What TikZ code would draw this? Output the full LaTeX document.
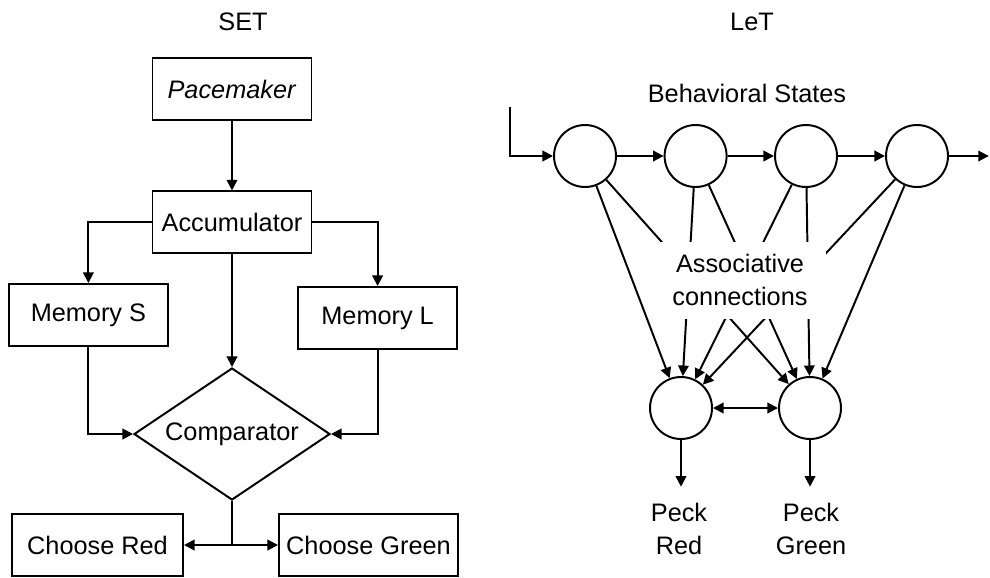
\documentclass[tikz,border=0pt]{standalone}
\usepackage{fontspec}
\setmainfont{Liberation Sans}
\usetikzlibrary{shapes.geometric,arrows.meta}

\tikzset{
  box/.style={draw, minimum width=3.975cm, minimum height=1.55cm, inner sep=0pt},
  state/.style={draw, circle, minimum size=1.55cm, inner sep=0pt},
  decision/.style={draw, diamond, shape aspect=1.5, minimum width=4.9cm, minimum height=3.3cm, inner sep=0pt},
}

\begin{document}
\begin{tikzpicture}[>={Triangle[length=7.5pt,width=7.5pt]}, line width=1.4pt, font=\fontsize{18}{23}\selectfont]
        \useasboundingbox (0,0) rectangle (24.75,-14.425);

        %titles of the two models
        \node (set) at (6.075,-0.55) {SET};
        \node (let) at (18.8,-0.55) {LeT};

        %SET: pacemaker and accumulator
        \node [box] (pace) at (5.8,-2.225) {\textit{Pacemaker}};
        \node [box] (acc) at (5.8,-5.56) {Accumulator};
        \draw [->] (pace) -- (acc);

        %SET: the two memories
        \node [box] (mems) at (2.21,-7.875) {Memory S};
        \node [box] (meml) at (9.44,-7.95) {Memory L};
        \draw [->] (acc.west) -| (mems.north);
        \draw [->] (acc.east) -| (meml.north);

        %SET: comparator
        \node [decision] (cmp) at (5.8,-10.85) {Comparator};
        \draw [->] (acc) -- (cmp);
        \draw [->] (mems.south) |- (cmp.west);
        \draw [->] (meml.south) |- (cmp.east);

        %SET: the two choices
        \node [box, minimum width=4.275cm] (red) at (2.4375,-13.625) {Choose Red};
        \node [box, minimum width=4.475cm] (green) at (9.2125,-13.625) {Choose Green};
        \coordinate (split) at (cmp.south |- red.east);
        \draw (cmp.south) -- (split);
        \draw [->] (split) -- (red);
        \draw [->] (split) -- (green);

        %LeT: chain of behavioral states
        \node (beh) at (18.675,-2.325) {Behavioral States};
        \foreach \i/\x in {1/14.625, 2/17.39, 3/20.15, 4/22.925}
            \node [state] (s\i) at (\x,-3.9) {};
        \coordinate (in) at (12.75,-2.675);
        \coordinate (out) at (24.72,-3.9);
        \draw [->] (in) |- (s1);
        \draw [->] (s1) -- (s2);
        \draw [->] (s2) -- (s3);
        \draw [->] (s3) -- (s4);
        \draw [->] (s4) -- (out);

        %LeT: response states
        \node [state] (pr) at (17.025,-10.2) {};
        \node [state] (pg) at (20.25,-10.2) {};
        \draw [<->] (pr) -- (pg);

        %associative connections from every state to both responses
        \foreach \i in {1,...,4} {
            \draw [->] (s\i) -- (pr);
            \draw [->] (s\i) -- (pg);
        }
        \node [fill=white, align=center, minimum width=4.3cm, minimum height=1.925cm] (assoc) at (18.5,-7.0) {Associative\\connections};

        %pecks
        \node [align=center] (pred) at (16.975,-13.225) {Peck\\Red};
        \node [align=center] (pgreen) at (20.275,-13.225) {Peck\\Green};
        \draw [->, shorten >=0.28cm] (pr) -- (pr |- pred.north);
        \draw [->, shorten >=0.28cm] (pg) -- (pg |- pgreen.north);

\end{tikzpicture}
\end{document}
